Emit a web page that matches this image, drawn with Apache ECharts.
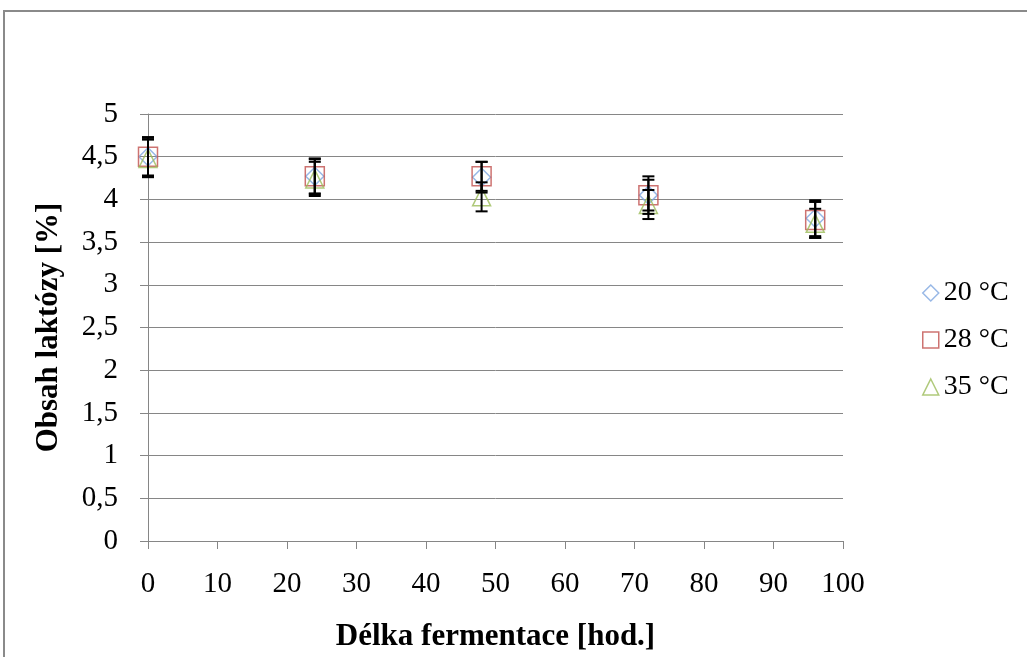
<!DOCTYPE html>
<html>
<head>
<meta charset="utf-8">
<script src="https://cdn.jsdelivr.net/npm/echarts@6/dist/echarts.min.js"></script>
<style>
  html, body { margin: 0; padding: 0; background: #fff; }
  #chart { width: 1027px; height: 657px; }
</style>
</head>
<body>
<div id="chart"></div>
<script>
// hours of fermentation
const hours = [0, 24, 48, 72, 96];

// lactose content [%] and std deviations
const t20 = [4.50, 4.27, 4.26, 4.05, 3.78];
const t20err = [0.23, 0.20, 0.18, 0.22, 0.21];
const t28 = [4.50, 4.27, 4.27, 4.05, 3.76];
const t28err = [0.22, 0.21, 0.17, 0.18, 0.21];
const t35 = [4.48, 4.24, 4.03, 3.94, 3.72];
const t35err = [0.22, 0.20, 0.17, 0.17, 0.17];

const names = ['20 °C', '28 °C', '35 °C'];
const colors = ['#7EA6E0', '#C0504D', '#9BBB59'];
const symbols = ['diamond', 'rect', 'triangle'];

const FONT = '"Liberation Serif", "DejaVu Serif", serif';

const chart = echarts.init(document.getElementById('chart'), null, { renderer: 'canvas' });

const pts = (vals) => hours.map((h, i) => [h, vals[i]]);
const errs = (vals, e) => hours.map((h, i) => [h, vals[i] - e[i], vals[i] + e[i]]);

function errorBar(params, api) {
  const x = api.value(0);
  const lo = api.coord([x, api.value(1)]);
  const hi = api.coord([x, api.value(2)]);
  const half = 6;
  const style = { stroke: '#000', lineWidth: 2 };
  return {
    type: 'group',
    children: [
      { type: 'line', shape: { x1: lo[0], y1: lo[1], x2: hi[0], y2: hi[1] }, style },
      { type: 'line', shape: { x1: lo[0] - half, y1: lo[1], x2: lo[0] + half, y2: lo[1] }, style },
      { type: 'line', shape: { x1: hi[0] - half, y1: hi[1], x2: hi[0] + half, y2: hi[1] }, style }
    ]
  };
}

const markerSeries = [t20, t28, t35].map((vals, k) => ({
  name: names[k],
  type: 'scatter',
  data: pts(vals),
  symbol: symbols[k],
  symbolSize: k === 1 ? 19 : 18,
  itemStyle: { color: 'rgba(255,255,255,0)', borderColor: colors[k], borderWidth: 1.5 },
  emphasis: { disabled: true },
  z: 2
}));

const errSeries = [[t20, t20err], [t28, t28err], [t35, t35err]].map(([v, e]) => ({
  type: 'custom',
  renderItem: errorBar,
  data: errs(v, e),
  z: 3,
  silent: true
}));

chart.setOption({
  animation: false,
  backgroundColor: '#fff',
  graphic: [{
    type: 'rect',
    shape: { x: 4, y: 11, width: 1100, height: 1000 },
    style: { fill: 'none', stroke: '#8a8a8a', lineWidth: 2 },
    silent: true
  }],
  grid: { left: 148, top: 114, width: 695, height: 427 },
  legend: {
    orient: 'vertical',
    left: 917,
    top: 274,
    itemGap: 19,
    itemWidth: 16,
    itemHeight: 16,
    textStyle: { fontFamily: FONT, fontSize: 28, color: '#000' },
    data: names.map((n, k) => ({
      name: n,
      icon: symbols[k],
      itemStyle: { color: 'rgba(255,255,255,0)', borderColor: colors[k], borderWidth: 1.5 }
    }))
  },
  xAxis: {
    type: 'value',
    min: 0, max: 100, interval: 10,
    name: 'Délka fermentace [hod.]',
    nameLocation: 'middle',
    nameGap: 80,
    nameTextStyle: { fontFamily: FONT, fontSize: 31, fontWeight: 'bold', color: '#000' },
    axisLine: { show: true, lineStyle: { color: '#868686', width: 1 } },
    axisTick: { show: true, length: 8, lineStyle: { color: '#868686' } },
    axisLabel: { margin: 29, fontFamily: FONT, fontSize: 29, color: '#000' },
    splitLine: { show: false }
  },
  yAxis: {
    type: 'value',
    min: 0, max: 5, interval: 0.5,
    name: 'Obsah laktózy [%]',
    nameLocation: 'middle',
    nameRotate: 90,
    nameGap: 84,
    nameTextStyle: { fontFamily: FONT, fontSize: 31, fontWeight: 'bold', color: '#000' },
    axisLine: { show: true, lineStyle: { color: '#868686', width: 1 } },
    axisTick: { show: true, length: 8, lineStyle: { color: '#868686' } },
    axisLabel: {
      margin: 30, fontFamily: FONT, fontSize: 29, color: '#000',
      formatter: (v) => String(v).replace('.', ',')
    },
    splitLine: { show: true, lineStyle: { color: '#868686', width: 1 } }
  },
  series: [...markerSeries, ...errSeries]
});
</script>
</body>
</html>
